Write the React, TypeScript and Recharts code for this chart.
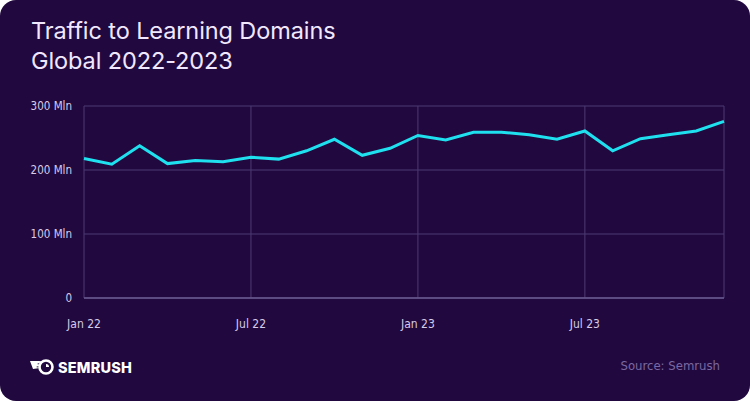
import React from "react";
import { LineChart, Line, XAxis, YAxis, CartesianGrid, ReferenceLine } from "recharts";

const months = [
  "Jan 22", "Feb 22", "Mar 22", "Apr 22", "May 22", "Jun 22",
  "Jul 22", "Aug 22", "Sep 22", "Oct 22", "Nov 22", "Dec 22",
  "Jan 23", "Feb 23", "Mar 23", "Apr 23", "May 23", "Jun 23",
  "Jul 23", "Aug 23", "Sep 23", "Oct 23", "Nov 23", "Dec 23",
];
const traffic = [
  218, 209, 238, 210, 215, 213,
  220, 217, 230, 248, 223, 234,
  254, 247, 259, 259, 255, 248,
  261, 230, 249, 255, 261, 276,
];
const yTicks = [0, 100, 200, 300];
const xGridMonths = ["Jan 22", "Jul 22", "Jan 23", "Jul 23", "Dec 23"];

const data = months.map((m, i) => ({ month: m, value: traffic[i] }));

const BG = "#21093f";
const GRID = "#4d3a72";
const NARROW = "'Liberation Sans Narrow', 'DejaVu Sans Condensed', 'Liberation Sans', sans-serif";

export default function App() {
  return (
    <div style={{ width: 750, height: 401, position: "relative", background: "#ffffff" }}>
      <style>{`body{margin:0;}`}</style>
      <div
        style={{
          position: "absolute",
          left: 0,
          top: 0,
          width: 750,
          height: 401,
          background: BG,
          borderRadius: 16,
          overflow: "hidden",
        }}
      >
        <div
          style={{
            position: "absolute",
            left: 31,
            top: 16,
            fontFamily: "Inter, 'Noto Sans', sans-serif",
            fontSize: 23.5,
            lineHeight: "30px",
            color: "#f1e8ff",
            fontWeight: 400,
            letterSpacing: -0.1,
          }}
        >
          <div>Traffic to Learning Domains</div>
          <div>Global 2022-2023</div>
        </div>

        <div style={{ position: "absolute", left: 0, top: 0 }}>
          <LineChart
            width={750}
            height={401}
            data={data}
            margin={{ top: 106, right: 26, bottom: 73, left: 24 }}
          >
            <CartesianGrid horizontal={true} vertical={false} stroke={GRID} strokeWidth={1} />
            {xGridMonths.map((m) => (
              <ReferenceLine key={m} x={m} stroke={GRID} strokeWidth={1} ifOverflow="extendDomain" />
            ))}
            <XAxis
              dataKey="month"
              interval={5}
              axisLine={{ stroke: "#6a5a90", strokeWidth: 1.5 }}
              tickLine={false}
              tickMargin={15}
              tick={{ fill: "#d6cbe8", fontSize: 12, fontFamily: NARROW }}
              height={30}
            />
            <YAxis
              domain={[0, 300]}
              ticks={yTicks}
              axisLine={false}
              tickLine={false}
              tickMargin={6}
              width={60}
              tick={{ fill: "#d6cbe8", fontSize: 11.5, fontFamily: NARROW }}
              tickFormatter={(v: number) => (v === 0 ? "0" : `${v} Mln`)}
            />
            <Line
              type="linear"
              dataKey="value"
              stroke="#1fe0ee"
              strokeWidth={3}
              dot={false}
              activeDot={false}
              isAnimationActive={false}
            />
          </LineChart>
        </div>

        <div
          style={{
            position: "absolute",
            left: 30,
            top: 358,
            display: "flex",
            alignItems: "center",
            gap: 3,
          }}
        >
          <svg width="25" height="18" viewBox="0 0 25 18">
            <path d="M0 3 L9 3 Q11 3 12 4 L7 6 L11 7 L6 9 L10 10 L3 11 Z" fill="#ffffff" />
            <circle cx="16" cy="9" r="6.5" fill="none" stroke="#ffffff" strokeWidth="2.6" />
            <path d="M16 6 A3 3 0 0 1 19 9 L16 9 Z" fill="#ffffff" />
          </svg>
          <span
            style={{
              fontFamily: "Inter, 'Liberation Sans', sans-serif",
              fontWeight: 800,
              fontSize: 14.5,
              color: "#ffffff",
              letterSpacing: 0.2,
            }}
          >
            SEMRUSH
          </span>
        </div>

        <div
          style={{
            position: "absolute",
            right: 30,
            top: 358,
            fontFamily: NARROW,
            fontSize: 13,
            color: "#7a68a2",
          }}
        >
          Source: Semrush
        </div>
      </div>
    </div>
  );
}
